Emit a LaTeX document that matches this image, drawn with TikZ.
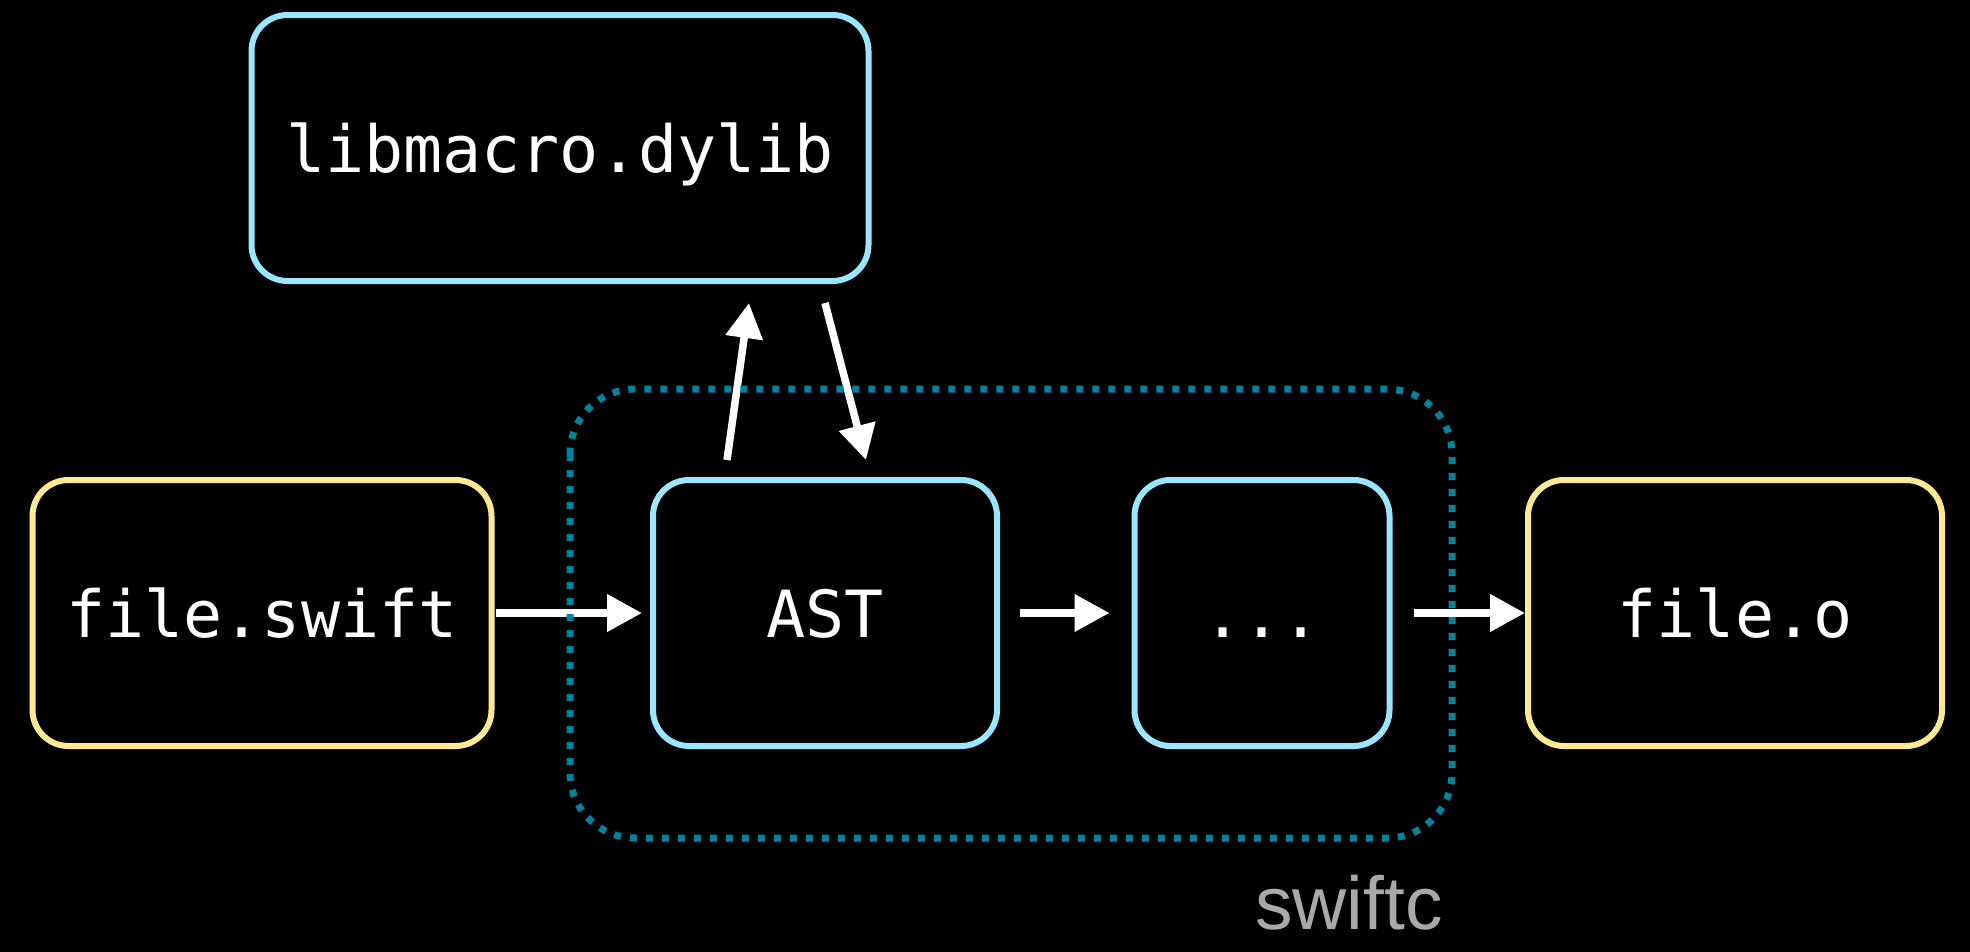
\documentclass[tikz,border=0pt]{standalone}
\usepackage{fontspec}
\setmonofont{DejaVu Sans Mono}
\setsansfont{Liberation Sans}
\usetikzlibrary{arrows.meta}

\definecolor{srcyellow}{HTML}{FFE992}
\definecolor{stageblue}{HTML}{9BE6FF}
\definecolor{swiftcteal}{HTML}{00839F}
\definecolor{labelgray}{HTML}{A9A9A9}

\tikzset{
    box/.style={draw, line width=6pt, rounded corners=36pt, minimum height=266pt,
        inner sep=0pt, text=white, text height=49pt, text depth=0pt,
        font=\ttfamily\fontsize{65}{70}\selectfont},
    srcbox/.style={box, draw=srcyellow},
    stagebox/.style={box, draw=stageblue},
    flow/.style={white, line width=7.5pt, -{Triangle[length=35pt,width=36pt]}},
}

\begin{document}
\begin{tikzpicture}[x=1pt, y=-1pt]
        % Canvas (box fixed first, fill runs past the edges)
        \useasboundingbox (0,0) rectangle (1970,951);
        \fill[black] (-10,-10) rectangle (1980,961);

        % Inputs and outputs
        \node[srcbox, minimum width=459pt] (swift) at (262,613) {file.swift};
        \node[srcbox, minimum width=414pt] (obj) at (1735,613) {file.o};

        % Compiler stages
        \node[stagebox, minimum width=344pt] (ast) at (825,613) {AST};
        \node[stagebox, minimum width=255pt] (dots) at (1262,613) {...};

        % Macro plugin
        \node[stagebox, minimum width=617pt] (lib) at (560,148) {libmacro.dylib};

        % Pipeline arrows
        \draw[flow, shorten <=1pt, shorten >=8pt] (swift) -- (ast);
        \draw[flow, shorten <=20pt, shorten >=22pt] (ast) -- (dots);
        \draw[flow, shorten <=21pt] (dots) -- (obj);

        % Round trip to the plugin
        \draw[flow] ([shift={(-98pt,17pt)}]ast.north) -- ([shift={(189pt,-19pt)}]lib.south);
        \draw[flow] ([shift={(265pt,-19pt)}]lib.south) -- ([shift={(41pt,17pt)}]ast.north);

        % Compiler boundary
        \draw[swiftcteal, line width=7pt, dash pattern=on 7pt off 9pt, rounded corners=65pt]
            (570,389) rectangle (1452,838);
        \node[anchor=base, text=labelgray, font=\sffamily\fontsize{75}{80}\selectfont]
            (swiftc) at (1349,929) {swiftc};
\end{tikzpicture}
\end{document}
